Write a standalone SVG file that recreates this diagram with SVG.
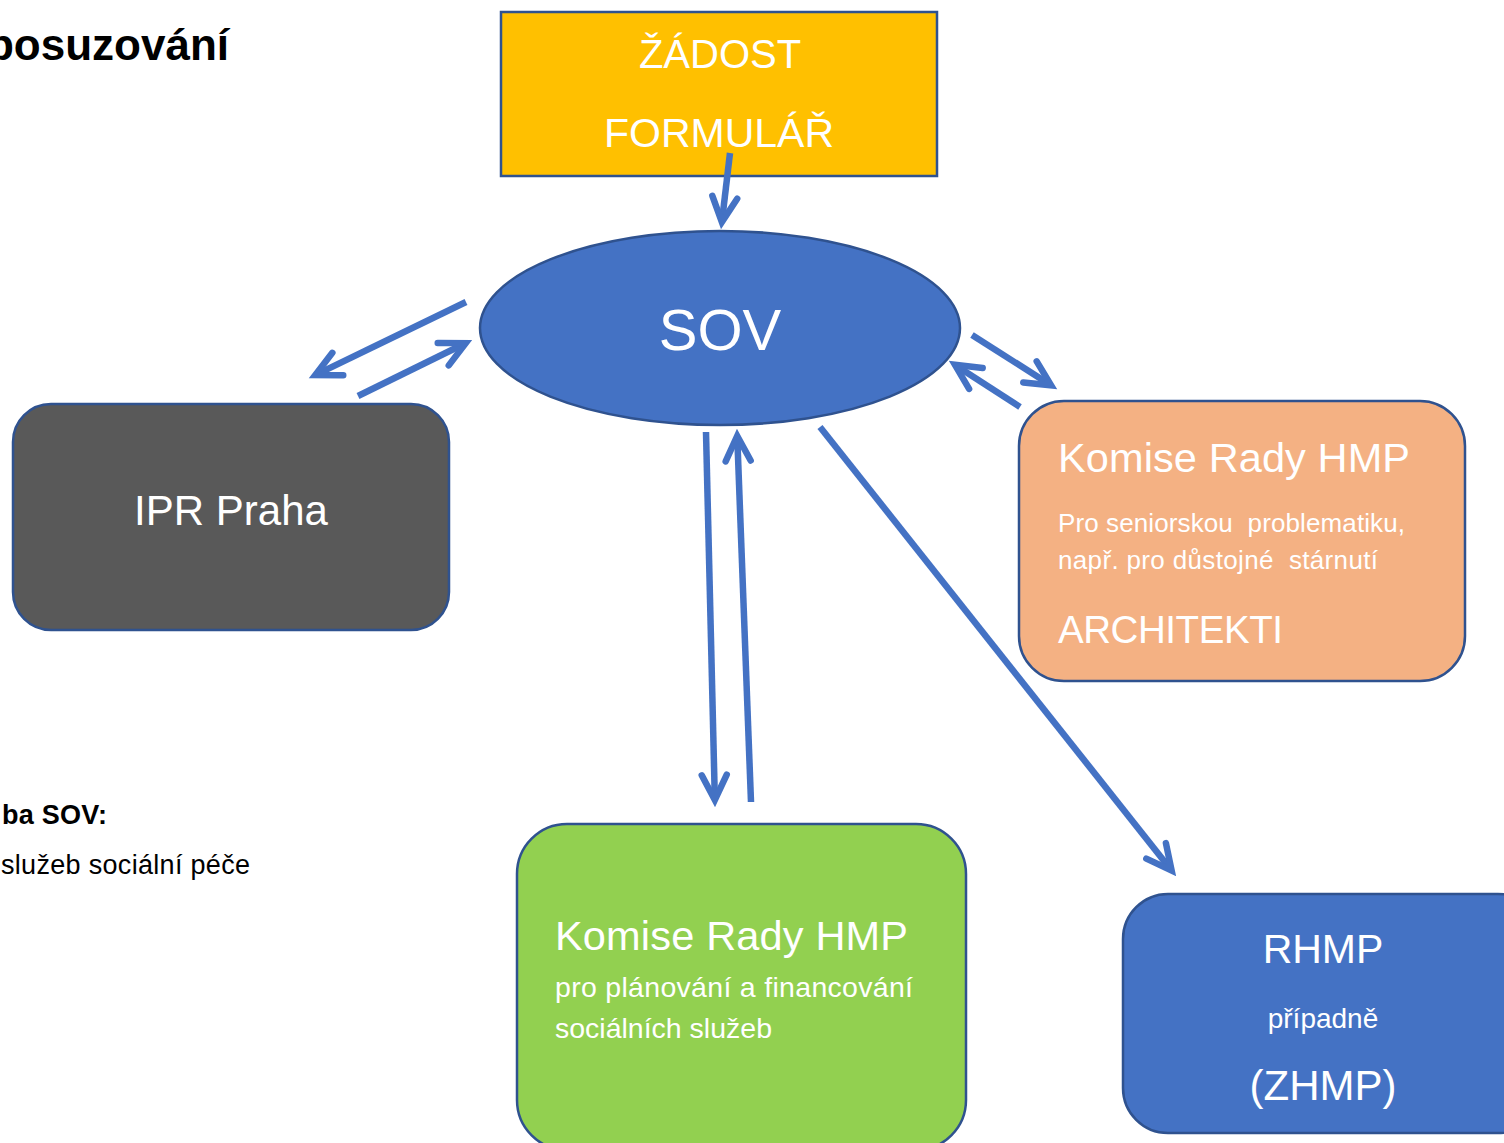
<svg xmlns="http://www.w3.org/2000/svg" width="1504" height="1143" viewBox="0 0 1504 1143">
<style>
  text { font-family: "Liberation Sans", Arial, sans-serif; }
  .w { fill: #ffffff; }
  .k { fill: #000000; }
  .box { stroke: #2F528F; stroke-width: 2.5; }
  .arr { stroke: #4472C4; stroke-width: 6.5; fill: none; stroke-linecap: butt; marker-end: url(#ah); }
</style>
<defs>
  <marker id="ah" markerUnits="userSpaceOnUse" orient="auto" overflow="visible" markerWidth="1" markerHeight="1" refX="0" refY="0">
    <path d="M-23,-12.5 L2,0 L-23,12.5" fill="none" stroke="#4472C4" stroke-width="6.5" stroke-linecap="round" stroke-linejoin="miter"/>
  </marker>
</defs>
<rect width="1504" height="1143" fill="#ffffff"/>

<g id="title">
  <text class="k" x="229" y="60" font-size="44" font-weight="bold" text-anchor="end">posuzování</text>
</g>

<g id="side-text">
  <text class="k" x="2" y="824" font-size="27" font-weight="bold" textLength="105">ba SOV:</text>
  <text class="k" x="1" y="874" font-size="27" textLength="249">služeb sociální péče</text>
</g>

<g id="zadost">
  <rect class="box" x="501" y="12" width="436" height="164" fill="#FFC000"/>
  <text class="w" x="720" y="68" font-size="40" text-anchor="middle">ŽÁDOST</text>
  <text class="w" x="719" y="147" font-size="41" text-anchor="middle">FORMULÁŘ</text>
</g>

<g id="sov">
  <ellipse class="box" cx="720" cy="328" rx="240" ry="97" fill="#4472C4"/>
  <text class="w" x="720" y="350" font-size="58" text-anchor="middle">SOV</text>
</g>

<g id="ipr">
  <rect class="box" x="13" y="404" width="436" height="226" rx="38" ry="38" fill="#595959"/>
  <text class="w" x="231" y="525" font-size="42" text-anchor="middle">IPR Praha</text>
</g>

<g id="komise-senior">
  <rect class="box" x="1019" y="401" width="446" height="280" rx="45" ry="45" fill="#F4B183"/>
  <text class="w" x="1058" y="472" font-size="41.5" textLength="352">Komise Rady HMP</text>
  <text class="w" x="1058" y="532" font-size="26" textLength="347" xml:space="preserve">Pro seniorskou  problematiku,</text>
  <text class="w" x="1058" y="569" font-size="26" textLength="320" xml:space="preserve">např. pro důstojné  stárnutí</text>
  <text class="w" x="1058" y="643" font-size="38.5" textLength="225">ARCHITEKTI</text>
</g>

<g id="komise-planovani">
  <rect class="box" x="517" y="824" width="449" height="326" rx="50" ry="50" fill="#92D050"/>
  <text class="w" x="555" y="950" font-size="41.5" textLength="353">Komise Rady HMP</text>
  <text class="w" x="555" y="997" font-size="28.5" textLength="358">pro plánování a financování</text>
  <text class="w" x="555" y="1038" font-size="28.5" textLength="217">sociálních služeb</text>
</g>

<g id="rhmp">
  <rect class="box" x="1123" y="894" width="420" height="239" rx="45" ry="45" fill="#4472C4"/>
  <text class="w" x="1323" y="963" font-size="41" text-anchor="middle">RHMP</text>
  <text class="w" x="1323" y="1028" font-size="28" text-anchor="middle">případně</text>
  <text class="w" x="1323" y="1100" font-size="42" text-anchor="middle">(ZHMP)</text>
</g>

<g id="connectors">
  <line class="arr" x1="730" y1="153" x2="722.1" y2="220.1"/>
  <line class="arr" x1="466" y1="302" x2="317.1" y2="374.1"/>
  <line class="arr" x1="358" y1="396" x2="463.9" y2="344"/>
  <line class="arr" x1="972" y1="335" x2="1049.4" y2="384.2"/>
  <line class="arr" x1="1020" y1="407" x2="956.6" y2="365.9"/>
  <line class="arr" x1="706" y1="432" x2="714.8" y2="798"/>
  <line class="arr" x1="751" y1="802" x2="737.3" y2="438"/>
  <line class="arr" x1="820" y1="427" x2="1170.4" y2="868.9"/>
</g>
</svg>
